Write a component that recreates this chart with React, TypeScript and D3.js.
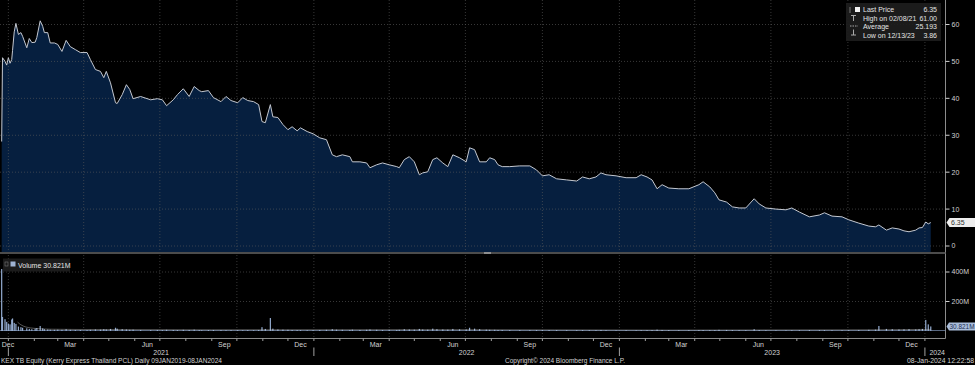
import React from 'react';
import * as d3 from 'd3';

// KEX TB Equity
const priceDates = [
  '2020-12-24','2020-12-25','2020-12-28','2020-12-30','2021-01-01','2021-01-03','2021-01-05','2021-01-06','2021-01-08','2021-01-10',
  '2021-01-13','2021-01-16','2021-01-18','2021-01-23','2021-01-26','2021-01-29','2021-02-02','2021-02-04','2021-02-08','2021-02-11',
  '2021-02-13','2021-02-17','2021-02-20','2021-02-25','2021-03-01','2021-03-06','2021-03-11','2021-03-16','2021-03-22','2021-03-28',
  '2021-04-05','2021-04-09','2021-04-15','2021-04-21','2021-04-25','2021-04-28','2021-05-03','2021-05-09','2021-05-11','2021-05-17',
  '2021-05-22','2021-05-26','2021-05-30','2021-06-08','2021-06-20','2021-06-28','2021-07-04','2021-07-09','2021-07-17','2021-07-22',
  '2021-07-29','2021-08-05','2021-08-11','2021-08-17','2021-08-20','2021-08-28','2021-09-03','2021-09-12','2021-09-18','2021-09-24',
  '2021-10-02','2021-10-08','2021-10-14','2021-10-21','2021-10-27','2021-10-31','2021-11-04','2021-11-10','2021-11-13','2021-11-19',
  '2021-11-25','2021-12-01','2021-12-06','2021-12-12','2021-12-16','2021-12-24','2021-12-31','2022-01-08','2022-01-16','2022-01-23',
  '2022-01-28','2022-02-04','2022-02-13','2022-02-16','2022-02-25','2022-03-05','2022-03-09','2022-03-17','2022-03-24','2022-04-01',
  '2022-04-10','2022-04-13','2022-04-19','2022-04-25','2022-05-01','2022-05-07','2022-05-11','2022-05-17','2022-05-23','2022-05-28',
  '2022-06-04','2022-06-10','2022-06-16','2022-06-24','2022-07-02','2022-07-06','2022-07-12','2022-07-18','2022-07-26','2022-07-30',
  '2022-08-05','2022-08-09','2022-08-14','2022-08-23','2022-09-04','2022-09-16','2022-09-24','2022-10-01','2022-10-09','2022-10-18',
  '2022-10-30','2022-11-11','2022-11-18','2022-11-26','2022-12-04','2022-12-10','2022-12-16','2022-12-28','2023-01-09','2023-01-21',
  '2023-01-27','2023-02-03','2023-02-09','2023-02-15','2023-02-21','2023-03-01','2023-03-13','2023-03-25','2023-04-06','2023-04-11',
  '2023-04-19','2023-04-25','2023-04-30','2023-05-09','2023-05-16','2023-05-24','2023-06-01','2023-06-11','2023-06-17','2023-06-25',
  '2023-07-07','2023-07-19','2023-07-26','2023-08-04','2023-08-16','2023-08-28','2023-09-03','2023-09-12','2023-09-24','2023-10-02',
  '2023-10-14','2023-10-26','2023-11-03','2023-11-07','2023-11-16','2023-11-23','2023-12-01','2023-12-07','2023-12-13','2023-12-21',
  '2023-12-25','2023-12-29','2024-01-02','2024-01-05','2024-01-08',
];

const priceClose = [
  28.3, 51.0, 50.0, 49.0, 51.0, 49.5, 50.5, 53.0, 58.0, 60.3,
  57.3, 57.8, 56.8, 53.7, 56.2, 55.1, 55.2, 56.5, 61.0, 59.5,
  57.8, 57.8, 55.0, 55.0, 54.6, 52.7, 55.7, 54.0, 53.2, 52.4,
  52.4, 50.5, 47.8, 47.3, 45.6, 47.3, 44.2, 38.8, 38.6, 41.0,
  43.7, 42.4, 39.9, 40.5, 39.6, 39.9, 39.6, 38.0, 39.6, 41.0,
  42.6, 40.5, 43.2, 42.1, 41.8, 42.1, 40.2, 39.1, 40.5, 39.4,
  38.8, 40.2, 39.4, 39.1, 38.3, 33.7, 33.4, 38.3, 35.0, 34.8,
  32.9, 31.5, 32.3, 31.2, 32.0, 31.0, 30.4, 29.3, 28.8, 24.7,
  24.2, 24.7, 24.2, 22.8, 22.8, 22.5, 21.2, 22.0, 22.5, 22.0,
  21.5, 21.2, 23.4, 24.2, 22.8, 19.3, 19.8, 20.1, 23.4, 23.9,
  22.5, 21.5, 24.7, 23.9, 22.8, 26.6, 26.1, 22.8, 22.8, 23.9,
  23.4, 22.0, 21.5, 21.5, 21.7, 21.7, 20.6, 19.0, 19.3, 18.2,
  17.9, 17.6, 18.7, 18.2, 18.7, 19.8, 19.3, 19.0, 18.5, 18.5,
  19.3, 18.7, 17.9, 15.5, 16.6, 15.7, 15.5, 15.5, 16.6, 17.4,
  16.0, 14.4, 12.5, 11.9, 10.6, 10.3, 10.3, 12.8, 11.4, 10.3,
  10.0, 9.8, 10.3, 9.2, 7.9, 8.4, 9.0, 8.1, 7.9, 7.1,
  6.2, 5.4, 5.2, 5.7, 4.3, 4.9, 4.6, 4.1, 3.86, 4.3,
  4.9, 5.0, 6.5, 6.0, 6.35,
];

// volume in millions of shares, same dates as priceDates
const volumeM = [
  420, 95, 80, 62, 50, 45, 78, 85, 55, 48,
  30, 26, 22, 18, 14, 12, 16, 20, 34, 18,
  12, 10, 9, 8, 9, 8, 12, 8, 7, 7,
  6, 8, 10, 9, 12, 10, 14, 22, 16, 12,
  10, 8, 9, 7, 6, 7, 6, 8, 7, 6,
  8, 7, 9, 6, 5, 6, 7, 6, 5, 6,
  6, 5, 6, 5, 7, 26, 14, 88, 16, 10,
  9, 8, 7, 6, 6, 5, 6, 7, 8, 12,
  9, 8, 7, 9, 7, 8, 10, 8, 7, 8,
  7, 8, 12, 10, 9, 14, 10, 9, 16, 12,
  10, 9, 14, 11, 10, 22, 16, 12, 9, 8,
  8, 7, 7, 6, 6, 5, 6, 7, 6, 6,
  5, 5, 6, 5, 5, 7, 5, 4, 5, 4,
  5, 5, 6, 9, 7, 6, 5, 5, 6, 6,
  5, 6, 8, 7, 6, 5, 5, 12, 6, 5,
  4, 4, 5, 5, 6, 5, 6, 5, 5, 6,
  7, 8, 9, 34, 14, 12, 10, 11, 12, 10,
  12, 14, 75, 45, 30.821,
];

// faint volume average line
const volAvgDates = ['2021-01-12', '2021-01-16', '2021-01-22', '2021-02-01', '2021-02-20', '2021-04-01', '2021-09-01', '2022-06-01', '2023-03-01', '2023-11-01', '2024-01-08'];
const volAvgM = [60, 42, 27, 18, 12, 10, 8, 9, 6, 8, 11];

const priceTicks = [0, 10, 20, 30, 40, 50, 60];
const volumeTicks = [200, 400];
const quarterLabelMonths = [11, 2, 5, 8]; // Dec Mar Jun Sep
const years = [2021, 2022, 2023, 2024];

const legendRows = [
  { label: 'Last Price', value: '6.35' },
  { label: 'High on 02/08/21', value: '61.00' },
  { label: 'Average', value: '25.193' },
  { label: 'Low on 12/13/23', value: '3.86' },
];
const lastPrice = 6.35;
const lastVolume = 30.821;

const W = 975;
const H = 365;
const plotRight = 945.5;
const priceBottom = 252;
const volTop = 255;
const axisY = 338.5;
const font = "'Liberation Sans', Arial, sans-serif";
const textCol = '#d2d2d2';
const gridCol = '#5c5c5c';

export default function App() {
  React.useEffect(() => {
    document.body.style.margin = '0';
    document.body.style.background = '#000';
  }, []);

  const parse = d3.timeParse('%Y-%m-%d');
  const data = priceDates.map((s, i) => ({ date: parse(s) as Date, close: priceClose[i], vol: volumeM[i] }));
  const avg = volAvgDates.map((s, i) => ({ date: parse(s) as Date, v: volAvgM[i] }));

  const x = d3.scaleTime().domain([new Date(2020, 11, 22), new Date(2024, 0, 25)]).range([0, 945]);
  const y = d3.scaleLinear().domain([0, 60]).range([246, 24.5]);
  const yv = d3.scaleLinear().domain([0, 400]).range([331, 272]);

  const area = d3.area<any>().x(d => x(d.date)).y0(priceBottom).y1(d => y(d.close));
  const line = d3.line<any>().x(d => x(d.date)).y(d => y(d.close));
  const avgLine = d3.line<any>().x(d => x(d.date)).y(d => yv(d.v)).curve(d3.curveMonotoneX);

  const [d0, d1] = x.domain();
  const quarters = d3.timeMonth.every(3)!.range(d0, d1).filter(d => d.getMonth() % 3 === 0);
  const months = d3.timeMonth.range(d0, d1);
  const monthLabels = d3.timeMonth.range(new Date(2020, 11, 1), d1)
    .filter(d => quarterLabelMonths.includes(d.getMonth()))
    .map(d => {
      const mid = new Date(d.getFullYear(), d.getMonth(), 16);
      return { text: d3.timeFormat('%b')(d), cx: Math.max(x(mid), 8) };
    });
  const yearLabels = years.map(yr => {
    const a = Math.max(x(new Date(yr, 0, 1)), 0);
    const b = Math.min(x(new Date(yr + 1, 0, 1)), plotRight);
    return { text: String(yr), cx: (a + b) / 2 + (yr === 2024 ? 2 : 0), tick: x(new Date(yr, 0, 1)) };
  });

  const yLast = y(lastPrice);
  const yVolLast = yv(lastVolume);

  return (
    <div style={{ position: 'absolute', left: 0, top: 0 }}>
      <svg width={W} height={H} style={{ display: 'block', background: '#000' }} fontFamily={font}>
        <rect x={0} y={0} width={W} height={H} fill="#000" />

        {/* price panel */}
        <path d={area(data) || ''} fill="#061f3f" />
        {priceTicks.map(t => (
          <line key={'pg' + t} x1={0} x2={plotRight} y1={y(t)} y2={y(t)} stroke={gridCol} strokeOpacity={0.6} strokeDasharray="1,2" />
        ))}
        {quarters.map(q => (
          <g key={'vg' + q.getTime()}>
            <line x1={x(q)} x2={x(q)} y1={0} y2={priceBottom} stroke={gridCol} strokeOpacity={0.6} strokeDasharray="1,2" />
            <line x1={x(q)} x2={x(q)} y1={volTop} y2={axisY} stroke={gridCol} strokeOpacity={0.6} strokeDasharray="1,2" />
          </g>
        ))}
        <path d={line(data) || ''} fill="none" stroke="#c4c8d0" strokeWidth={1} />

        {/* price axis */}
        <line x1={plotRight} x2={plotRight} y1={0} y2={axisY} stroke="#8c8c8c" strokeWidth={1} />
        {priceTicks.map(t => (
          <g key={'pt' + t}>
            <line x1={plotRight} x2={plotRight + 4} y1={y(t)} y2={y(t)} stroke="#d0d0d0" />
            <text x={plotRight + 6} y={y(t)} dy="0.35em" fontSize={7} fill={textCol}>{t}</text>
          </g>
        ))}
        <path d={`M${plotRight + 1},${yLast} L${plotRight + 4},${yLast - 4.5} H${W} V${yLast + 4.5} H${plotRight + 4} Z`} fill="#eeeeee" />
        <text x={plotRight + 5.5} y={yLast} dy="0.36em" fontSize={7} fill="#303030">{lastPrice.toFixed(2)}</text>

        {/* legend */}
        <rect x={846} y={3} width={95} height={38} fill="#1d1d1d" fillOpacity={0.92} />
        <line x1={850} x2={850} y1={7} y2={13} stroke="#777" />
        <rect x={855} y={7} width={5} height={5} fill="#f2f2f2" />
        <line x1={851} x2={856} y1={15.5} y2={15.5} stroke="#aaa" />
        <line x1={853.5} x2={853.5} y1={15.5} y2={21} stroke="#aaa" />
        <line x1={850} x2={858} y1={26} y2={26} stroke="#aaa" strokeDasharray="1.5,1" />
        <line x1={853.5} x2={853.5} y1={29.5} y2={35} stroke="#aaa" />
        <line x1={851} x2={856} y1={35} y2={35} stroke="#aaa" />
        {legendRows.map((r, i) => (
          <g key={r.label} fontSize={7} fill="#e4e4e4">
            <text x={863} y={12 + i * 8.5}>{r.label}</text>
            <text x={937} y={12 + i * 8.5} textAnchor="end">{r.value}</text>
          </g>
        ))}

        {/* panel divider */}
        <rect x={0} y={priceBottom} width={plotRight} height={2} fill="#4c4c4c" />
        <rect x={484} y={priceBottom} width={7} height={2} fill="#8e8e8e" />

        {/* volume panel */}
        {volumeTicks.map(t => (
          <line key={'vgl' + t} x1={0} x2={plotRight} y1={yv(t)} y2={yv(t)} stroke={gridCol} strokeOpacity={0.6} strokeDasharray="1,2" />
        ))}
        <line x1={0} x2={plotRight} y1={yv(0) - 0.5} y2={yv(0) - 0.5} stroke="#7d93b6" strokeOpacity={0.7} />
        {data.map((d, i) => (
          <rect key={'vb' + i} x={x(d.date) - 0.6} width={1.2} y={yv(d.vol)} height={yv(0) - yv(d.vol)} fill="#93abcf" />
        ))}
        <path d={avgLine(avg) || ''} fill="none" stroke="#e0e0e0" strokeOpacity={0.55} strokeWidth={0.7} />

        <rect x={3} y={258.5} width={67} height={13} fill="#1b1b1b" />
        <rect x={5} y={262} width={3} height={4} fill="none" stroke="#777" strokeWidth={0.6} />
        <rect x={10.5} y={261.5} width={5} height={5} fill="#9fb3d3" />
        <text x={18} y={267.5} fontSize={7} fill="#e4e4e4">Volume 30.821M</text>

        {volumeTicks.map(t => (
          <g key={'vt' + t}>
            <line x1={plotRight} x2={plotRight + 4} y1={yv(t)} y2={yv(t)} stroke="#d0d0d0" />
            <text x={plotRight + 6} y={yv(t)} dy="0.35em" fontSize={7} fill={textCol}>{t}M</text>
          </g>
        ))}
        <path d={`M${plotRight + 1},${yVolLast} L${plotRight + 3.5},${yVolLast - 4} H${W} V${yVolLast + 4} H${plotRight + 3.5} Z`} fill="#a9bddb" />
        <text x={plotRight + 4} y={yVolLast} dy="0.36em" fontSize={6.5} fill="#1c2f52" textLength={25} lengthAdjust="spacingAndGlyphs">30.821M</text>

        {/* time axis */}
        <line x1={0} x2={plotRight} y1={axisY} y2={axisY} stroke="#8c8c8c" />
        {months.map(m => (
          <line key={'mt' + m.getTime()} x1={x(m)} x2={x(m)} y1={axisY} y2={axisY + 2.5} stroke="#a0a0a0" />
        ))}
        {monthLabels.map(m => (
          <text key={'ml' + m.cx} x={m.cx} y={347} fontSize={7} fill={textCol} textAnchor="middle">{m.text}</text>
        ))}
        {yearLabels.map(yl => (
          <g key={'yl' + yl.text}>
            <line x1={yl.tick} x2={yl.tick} y1={347.5} y2={356} stroke="#a0a0a0" />
            <text x={yl.cx} y={354.5} fontSize={7} fill={textCol} textAnchor="middle">{yl.text}</text>
          </g>
        ))}

        {/* footer */}
        <text x={1} y={363} fontSize={7} fill={textCol} textLength={221} lengthAdjust="spacingAndGlyphs">KEX TB Equity (Kerry Express Thailand PCL)  Daily 09JAN2019-08JAN2024</text>
        <text x={505} y={363} fontSize={7} fill={textCol} textLength={120} lengthAdjust="spacingAndGlyphs">Copyright© 2024 Bloomberg Finance L.P.</text>
        <text x={907} y={363} fontSize={7} fill={textCol} textLength={67} lengthAdjust="spacingAndGlyphs">08-Jan-2024 12:22:58</text>
      </svg>
    </div>
  );
}
